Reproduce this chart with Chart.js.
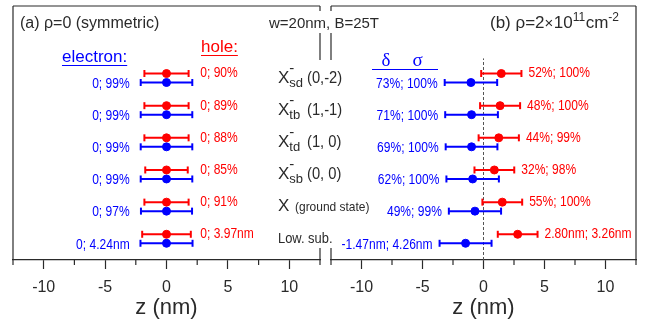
<!DOCTYPE html>
<html>
<head>
<meta charset="utf-8">
<script src="https://cdn.jsdelivr.net/npm/chart.js@4.4.0/dist/chart.umd.min.js"></script>
<style>
  html, body { margin: 0; padding: 0; background: #fff; }
  #wrap { position: relative; width: 653px; height: 329px; }
  #wrap canvas { position: absolute; left: 0; top: 0; }
</style>
</head>
<body>
<div id="wrap">
  <canvas id="chart-a" width="653" height="329"></canvas>
  <canvas id="chart-b" width="653" height="329"></canvas>
</div>
<script>
// ── Data ─────────────────────────────────────────────────────────────
// rows top to bottom: X-sd, X-tb, X-td, X-sb, X (ground state), lowest subband
const rowBase = [5, 4, 3, 2, 1, 0];
const stateSubs = ['sd', 'tb', 'td', 'sb'];
const stateQN = ['(0,-2)', '(1,-1)', '(1, 0)', '(0, 0)'];

// panel (a) rho = 0 : centre z and half width (nm)
const aHoleZ = [0, 0, 0, 0, 0, 0];
const aHoleHW = [1.8, 1.8, 1.8, 1.73, 1.8, 1.98];
const aElecZ = [0, 0, 0, 0, 0, 0];
const aElecHW = [2.1, 2.1, 2.1, 2.1, 2.08, 2.12];
const aHoleText = ['0; 90%', '0; 89%', '0; 88%', '0; 85%', '0; 91%', '0; 3.97nm'];
const aElecText = ['0; 99%', '0; 99%', '0; 99%', '0; 99%', '0; 97%', '0; 4.24nm'];

// panel (b) rho = 2e11 cm^-2
const bHoleZ = [1.46, 1.36, 1.25, 0.89, 1.54, 2.80];
const bHoleHW = [1.65, 1.64, 1.65, 1.63, 1.63, 1.63];
const bElecZ = [-1.03, -0.98, -0.98, -0.89, -0.70, -1.47];
const bElecHW = [2.15, 2.16, 2.12, 2.15, 2.14, 2.13];
const bHoleText = ['52%; 100%', '48%; 100%', '44%; 99%', '32%; 98%', '55%; 100%', '2.80nm; 3.26nm'];
const bElecText = ['73%; 100%', '71%; 100%', '69%; 100%', '62%; 100%', '49%; 99%', '-1.47nm; 4.26nm'];

const zTickValues = [-10, -5, 0, 5, 10];

// ── Style ────────────────────────────────────────────────────────────
const RED = '#ff0000';
const BLUE = '#0000ff';
const INK = '#2a2a2a';
const FONT = '"Liberation Sans", Arial, sans-serif';
const HOLE_DY = 0.8;
const ELEC_DY = 0.52;

function txt(ctx, s, x, y, size, color, align, sx, family) {
  ctx.save();
  ctx.font = size + 'px ' + (family || FONT);
  ctx.fillStyle = color;
  ctx.textAlign = align || 'left';
  ctx.textBaseline = 'alphabetic';
  ctx.translate(x, y);
  ctx.scale(sx || 1, 1);
  ctx.fillText(s, 0, 0);
  const w = ctx.measureText(s).width * (sx || 1);
  ctx.restore();
  return w;
}

function txtMid(ctx, s, x, y, size, color, align, sx) {
  ctx.save();
  ctx.font = size + 'px ' + FONT;
  ctx.fillStyle = color;
  ctx.textAlign = align || 'left';
  ctx.textBaseline = 'middle';
  ctx.translate(x, y);
  ctx.scale(sx || 1, 1);
  ctx.fillText(s, 0, 0);
  ctx.restore();
}

function line(ctx, x1, y1, x2, y2, color, w) {
  ctx.save();
  ctx.strokeStyle = color;
  ctx.lineWidth = w || 1.2;
  ctx.beginPath();
  ctx.moveTo(x1, y1);
  ctx.lineTo(x2, y2);
  ctx.stroke();
  ctx.restore();
}

function barSet(z, hw, y, color) {
  return {
    data: [{ x: z - hw, y: y }, { x: z, y: y }, { x: z + hw, y: y }],
    showLine: true,
    borderColor: color,
    backgroundColor: color,
    borderWidth: 2,
    pointStyle: c => (c.dataIndex === 1 ? 'circle' : 'line'),
    pointRadius: c => (c.dataIndex === 1 ? 4 : 3.5),
    pointRotation: c => (c.dataIndex === 1 ? 0 : 90),
    pointBorderWidth: c => (c.dataIndex === 1 ? 1 : 2),
    pointBorderColor: color,
    pointBackgroundColor: color,
  };
}

const minorTicks = {
  id: 'minorTicks',
  afterDraw(chart) {
    const s = chart.scales.x;
    s.ticks.forEach(t => {
      if (!zTickValues.includes(t.value)) {
        const px = s.getPixelForValue(t.value);
        line(chart.ctx, px, s.top, px, s.top + 5, INK, 1.2);
      }
    });
  },
};

function panelOptions(pad) {
  return {
    responsive: false,
    animation: false,
    events: [],
    layout: { padding: pad },
    plugins: { legend: { display: false }, tooltip: { enabled: false } },
    scales: {
      x: {
        type: 'linear',
        min: -12.5,
        max: 12.5,
        afterFit: s => { s.height = 69; },
        ticks: {
          stepSize: 2.5,
          autoSkip: false,
          maxRotation: 0,
          padding: 9,
          color: INK,
          font: { family: FONT, size: 16 },
          callback: v => (zTickValues.includes(v) ? String(v) : ''),
        },
        grid: {
          drawOnChartArea: false,
          tickLength: 9,
          tickWidth: 1.2,
          tickColor: c => (c.tick && zTickValues.includes(c.tick.value) ? INK : 'rgba(0,0,0,0)'),
        },
        border: { color: INK, width: 1.2 },
        title: {
          display: true,
          text: 'z (nm)',
          color: INK,
          font: { family: FONT, size: 22 },
          padding: { top: 0, bottom: 8 },
        },
      },
      y: { type: 'linear', min: 0, max: 7.9, display: false },
    },
  };
}

function pairSets(holeZ, holeHW, elecZ, elecHW) {
  const sets = [];
  rowBase.forEach((b, i) => {
    sets.push(barSet(holeZ[i], holeHW[i], b + HOLE_DY, RED));
    sets.push(barSet(elecZ[i], elecHW[i], b + ELEC_DY, BLUE));
  });
  return sets;
}

// ── Panel (a) ────────────────────────────────────────────────────────
const annotA = {
  id: 'annotA',
  afterDraw(chart) {
    const ctx = chart.ctx;
    const a = chart.chartArea;
    const xs = chart.scales.x, ys = chart.scales.y;

    // frame + break marks
    line(ctx, a.left, a.top, a.left, a.bottom, INK);
    line(ctx, a.left, a.top, a.right, a.top, INK);
    line(ctx, a.right, a.top, a.right, a.top + 5, INK);
    line(ctx, a.right, 33, a.right, 60, INK);
    line(ctx, a.right, a.bottom - 12, a.right, a.bottom, INK);

    // titles
    txt(ctx, '(a) \u03c1=0 (symmetric)', 20, 28, 16, INK);
    txt(ctx, 'w=20nm, B=25T', 324, 28, 15, INK, 'center');

    // headers
    const we = txt(ctx, 'electron:', 62, 62, 17, BLUE);
    line(ctx, 62, 65.5, 62 + we, 65.5, BLUE, 1.2);
    const wh = txt(ctx, 'hole:', 201, 52, 17, RED);
    line(ctx, 201, 55.5, 201 + wh, 55.5, RED, 1.2);

    // value labels
    rowBase.forEach((b, i) => {
      txtMid(ctx, aHoleText[i], xs.getPixelForValue(2.75), ys.getPixelForValue(b + HOLE_DY), 14, RED, 'left', 0.86);
      txtMid(ctx, aElecText[i], xs.getPixelForValue(-3.0), ys.getPixelForValue(b + ELEC_DY) + 1.5, 14, BLUE, 'right', 0.86);
    });

    // state labels in the middle
    rowBase.forEach((b, i) => {
      const mid = ys.getPixelForValue(b + (HOLE_DY + ELEC_DY) / 2);
      const x0 = 278;
      if (i < 4) {
        const wx = txt(ctx, 'X', x0, mid + 5, 17, INK);
        txt(ctx, '-', x0 + wx, mid - 5, 15, INK);
        txt(ctx, stateSubs[i], x0 + wx, mid + 9, 13, INK);
        txt(ctx, stateQN[i], 307, mid + 5, 16, INK, 'left', 0.92);
      } else if (i === 4) {
        txt(ctx, 'X', x0, mid + 4, 17, INK);
        txt(ctx, '(ground state)', 295, mid + 4, 13, INK, 'left', 0.92);
      } else {
        txt(ctx, 'Low. sub.', x0, mid + 4, 15, INK, 'left', 0.86);
      }
    });
  },
};

new Chart(document.getElementById('chart-a'), {
  type: 'scatter',
  data: { datasets: pairSets(aHoleZ, aHoleHW, aElecZ, aElecHW) },
  options: panelOptions({ left: 13, right: 333, top: 4, bottom: 0 }),
  plugins: [minorTicks, annotA],
});

// ── Panel (b) ────────────────────────────────────────────────────────
const annotB = {
  id: 'annotB',
  afterDraw(chart) {
    const ctx = chart.ctx;
    const a = chart.chartArea;
    const xs = chart.scales.x, ys = chart.scales.y;

    // frame + break marks
    line(ctx, a.right, a.top, a.right, a.bottom, INK);
    line(ctx, a.left, a.top, a.right, a.top, INK);
    line(ctx, a.left, a.top, a.left, a.top + 5, INK);
    line(ctx, a.left, 33, a.left, 60, INK);
    line(ctx, a.left, a.bottom - 12, a.left, a.bottom, INK);

    // title (b) rho = 2x10^11 cm^-2
    let x = 490;
    x += txt(ctx, '(b) \u03c1=2', x, 28, 17, INK);
    x += txt(ctx, '\u00d7', x, 28, 15, INK) + 0.5;
    x += txt(ctx, '10', x, 28, 17, INK);
    x += txt(ctx, '11', x, 21, 12, INK) + 0.5;
    x += txt(ctx, 'cm', x, 28, 17, INK);
    txt(ctx, '-2', x, 21, 12, INK);

    // delta / sigma header
    txt(ctx, '\u03b4', 381.5, 66, 19, BLUE, 'left', 1, '"Liberation Serif", serif');
    txt(ctx, '\u03c3', 412.5, 66, 19, BLUE, 'left', 1, '"Liberation Serif", serif');
    line(ctx, 372, 69.5, 438, 69.5, BLUE, 1.2);

    // value labels next to the bars
    rowBase.forEach((b, i) => {
      txtMid(ctx, bHoleText[i], xs.getPixelForValue(bHoleZ[i] + bHoleHW[i]) + 7,
        ys.getPixelForValue(b + HOLE_DY), 14, RED, 'left', 0.86);
      txtMid(ctx, bElecText[i], xs.getPixelForValue(bElecZ[i] - bElecHW[i]) - 7,
        ys.getPixelForValue(b + ELEC_DY) + 1.5, 14, BLUE, 'right', 0.86);
    });
  },
};

const bSets = pairSets(bHoleZ, bHoleHW, bElecZ, bElecHW);
bSets.push({
  data: [{ x: 0, y: 0 }, { x: 0, y: 6.27 }],
  showLine: true,
  borderColor: '#555',
  borderWidth: 1,
  borderDash: [3, 2],
  pointRadius: 0,
});

new Chart(document.getElementById('chart-b'), {
  type: 'scatter',
  data: { datasets: bSets },
  options: panelOptions({ left: 331, right: 17, top: 4, bottom: 0 }),
  plugins: [minorTicks, annotB],
});
</script>
</body>
</html>
